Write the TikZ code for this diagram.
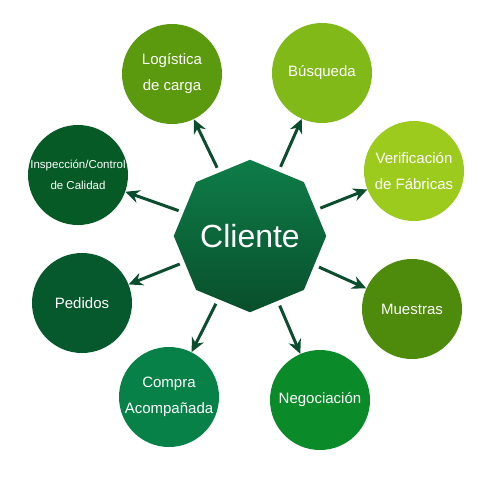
\documentclass[tikz,border=0pt]{standalone}
\usepackage{fontspec}
\setmainfont{Liberation Sans}
\usetikzlibrary{shapes.geometric,arrows.meta}
\definecolor{cLog}{HTML}{5B9A0F}
\definecolor{cBus}{HTML}{80B918}
\definecolor{cVer}{HTML}{9CCB1E}
\definecolor{cMue}{HTML}{4E8A0C}
\definecolor{cNeg}{HTML}{0B8A2A}
\definecolor{cCom}{HTML}{078148}
\definecolor{cPed}{HTML}{06592C}
\definecolor{cIns}{HTML}{065A25}
\definecolor{octTop}{HTML}{0E7D48}
\definecolor{octBot}{HTML}{094F2C}
\definecolor{arrc}{HTML}{0B4D2E}
\tikzset{
  bubble/.style={circle, minimum size=100pt, inner sep=0pt, text=white,
    align=center, font=\fontsize{15}{26}\selectfont},
  hub/.style={regular polygon, regular polygon sides=8, shape border rotate=22.5,
    minimum size=142pt, inner sep=0pt, top color=octTop, bottom color=octBot,
    text=white, font=\fontsize{32}{36}\selectfont},
  arr/.style={draw=arrc, line width=3pt, shorten <=5pt,
    -{Stealth[length=14pt,width=13pt,inset=4.5pt]}}
}
\begin{document}
\begin{tikzpicture}[x=1pt,y=-1pt]
\useasboundingbox (0,0) rectangle (480,480);
\node[hub] (oct) at (250,236) {Cliente};
\node[bubble, fill=cLog] (log) at (172,74) {Logística\\de carga};
\node[bubble, fill=cBus] (bus) at (322,73) {Búsqueda};
\node[bubble, fill=cVer] (ver) at (414,171) {Verificación\\de Fábricas};
\node[bubble, fill=cMue] (mue) at (412,309) {Muestras};
\node[bubble, fill=cNeg] (neg) at (320,400) {Negociación};
\node[bubble, fill=cCom] (com) at (169,397) {Compra\\Acompañada};
\node[bubble, fill=cPed] (ped) at (82,303) {Pedidos};
\node[bubble, fill=cIns, font=\fontsize{11.5}{21}\selectfont] (ins) at (78,175) {Inspección/Control\\de Calidad};
\foreach \t in {log,bus,ver,mue,neg,com,ped,ins}
  \draw[arr] (oct) -- (\t);
\end{tikzpicture}
\end{document}
